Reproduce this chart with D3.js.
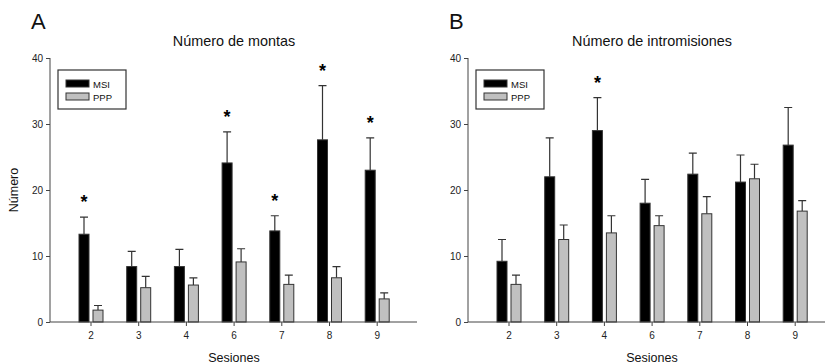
<!DOCTYPE html>
<html>
<head>
<meta charset="utf-8">
<script src="https://cdn.jsdelivr.net/npm/d3@7"></script>
<style>
  body { margin: 0; background: #fff; }
  svg { display: block; font-family: "Liberation Sans", Arial, sans-serif; }
</style>
</head>
<body>
<div class="chart"></div>
<script>
const sessions = ['2', '3', '4', '6', '7', '8', '9']

// Panel A: Número de montas (mean and SEM)
const montasMSI = [13.3, 8.4, 8.4, 24.1, 13.8, 27.6, 23.0]
const montasMSIErr = [2.6, 2.3, 2.6, 4.7, 2.3, 8.2, 4.9]
const montasPPP = [1.8, 5.2, 5.6, 9.1, 5.7, 6.7, 3.5]
const montasPPPErr = [0.7, 1.7, 1.1, 2.0, 1.4, 1.7, 0.9]
const montasStars = ['2', '6', '7', '8', '9']

// Panel B: Número de intromisiones
const introMSI = [9.2, 22.0, 29.0, 18.0, 22.4, 21.2, 26.8]
const introMSIErr = [3.3, 5.9, 5.0, 3.6, 3.2, 4.1, 5.7]
const introPPP = [5.7, 12.5, 13.5, 14.6, 16.4, 21.7, 16.8]
const introPPPErr = [1.4, 2.2, 2.6, 1.5, 2.6, 2.2, 1.6]
const introStars = ['4']

const yTicks = [0, 10, 20, 30, 40]
const seriesNames = ['MSI', 'PPP']
const seriesColors = ['#000000', '#c0c0c0']

const width = 825
const height = 364

const svg = d3.select('.chart')
  .append('svg')
  .attr('width', width)
  .attr('height', height)

const y = d3.scaleLinear().domain([0, 40]).range([322, 58])

function drawPanel (left, letter, title, msi, msiErr, ppp, pppErr, stars, showYLabel) {
  const g = svg.append('g').attr('transform', `translate(${left},0)`)

  // first category centre sits 41px right of the y axis, 47.7px apart
  const x = d3.scaleBand()
    .domain(sessions)
    .range([41 - 47.7 / 2, 41 - 47.7 / 2 + 47.7 * sessions.length])

  const rows = sessions.map((s, i) => ({
    s,
    values: [
      { v: msi[i], e: msiErr[i], k: 0 },
      { v: ppp[i], e: pppErr[i], k: 1 }
    ]
  }))

  const barW = 10
  const offs = [-12, 2]

  const groups = g.selectAll('.grp')
    .data(rows)
    .enter()
    .append('g')
    .attr('transform', (d) => `translate(${x(d.s) + x.bandwidth() / 2},0)`)

  // error bars (upper only)
  groups.selectAll('.err')
    .data((d) => d.values)
    .enter()
    .append('path')
    .attr('d', (d) => {
      const cx = offs[d.k] + barW / 2
      const top = y(d.v + d.e)
      return `M${cx},${y(d.v)}V${top}M${cx - 4},${top}H${cx + 4}`
    })
    .attr('stroke', '#333')
    .attr('stroke-width', 1.2)
    .attr('fill', 'none')

  groups.selectAll('rect')
    .data((d) => d.values)
    .enter()
    .append('rect')
    .attr('x', (d) => offs[d.k])
    .attr('y', (d) => y(d.v))
    .attr('width', barW)
    .attr('height', (d) => y(0) - y(d.v))
    .attr('fill', (d) => seriesColors[d.k])
    .attr('stroke', '#333')
    .attr('stroke-width', 1)

  // significance stars
  groups.filter((d) => stars.includes(d.s))
    .append('text')
    .attr('x', offs[0] + barW / 2)
    .attr('y', (d) => y(d.values[0].v + d.values[0].e) - 9)
    .attr('text-anchor', 'middle')
    .attr('font-size', 18)
    .attr('font-weight', 'bold')
    .text('*')

  // y axis
  const yAxis = d3.axisLeft(y).tickValues(yTicks).tickSize(4).tickPadding(3)
  const ya = g.append('g').call(yAxis)
  ya.select('.domain').attr('d', `M0,${y(0)}V${y(40)}`)
  ya.selectAll('line, path').attr('stroke', '#444')
  ya.selectAll('text').attr('font-size', 10).attr('fill', '#222')

  // x axis
  const xAxis = d3.axisBottom(x).tickSize(4).tickPadding(6)
  const xa = g.append('g').attr('transform', `translate(0,${y(0)})`).call(xAxis)
  xa.select('.domain').attr('d', 'M0,0H367')
  xa.selectAll('line, path').attr('stroke', '#444')
  xa.selectAll('text').attr('font-size', 10).attr('fill', '#222')

  // titles
  g.append('text')
    .attr('x', 184)
    .attr('y', 46)
    .attr('text-anchor', 'middle')
    .attr('font-size', 14.4)
    .attr('fill', '#111')
    .text(title)

  g.append('text')
    .attr('x', -19)
    .attr('y', 29)
    .attr('font-size', 22)
    .attr('fill', '#111')
    .text(letter)

  g.append('text')
    .attr('x', 184)
    .attr('y', 362)
    .attr('text-anchor', 'middle')
    .attr('font-size', 12.5)
    .attr('fill', '#111')
    .text('Sesiones')

  if (showYLabel) {
    g.append('text')
      .attr('transform', `translate(${-32},190) rotate(-90)`)
      .attr('text-anchor', 'middle')
      .attr('font-size', 12.5)
      .attr('fill', '#111')
      .text('Número')
  }

  // legend
  const lg = g.append('g').attr('transform', 'translate(8,70)')
  lg.append('rect')
    .attr('width', 68)
    .attr('height', 39)
    .attr('fill', '#fff')
    .attr('stroke', '#333')
    .attr('stroke-width', 1.2)
  const items = lg.selectAll('.item')
    .data(seriesNames)
    .enter()
    .append('g')
    .attr('transform', (d, i) => `translate(8,${10 + i * 13})`)
  items.append('rect')
    .attr('width', 23)
    .attr('height', 7)
    .attr('fill', (d, i) => seriesColors[i])
    .attr('stroke', '#333')
    .attr('stroke-width', 1)
  items.append('text')
    .attr('x', 27)
    .attr('y', 7.5)
    .attr('font-size', 9.5)
    .attr('fill', '#111')
    .text((d) => d)
}

drawPanel(50, 'A', 'Número de montas', montasMSI, montasMSIErr, montasPPP, montasPPPErr, montasStars, true)
drawPanel(468, 'B', 'Número de intromisiones', introMSI, introMSIErr, introPPP, introPPPErr, introStars, false)
</script>
</body>
</html>
